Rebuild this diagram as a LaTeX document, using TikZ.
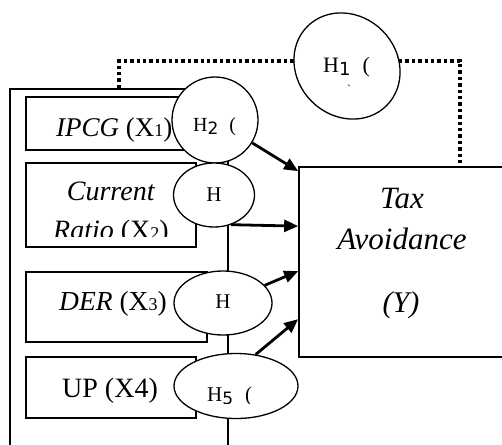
\documentclass[tikz,border=0pt]{standalone}
\usepackage{fontspec}
\setmainfont{Liberation Serif}
\newfontfamily\digitfont{DejaVu Sans}
\usepackage{tikz}
\usetikzlibrary{arrows.meta, shapes.geometric}

% small index digit after X, and the lowered digit after H
\newcommand{\xsub}[1]{{\fontsize{18}{18}\selectfont #1}}
\newcommand{\hsub}[2][15]{\raisebox{-3pt}{\digitfont\fontsize{#1}{#1}\selectfont #2}}

\begin{document}
\begin{tikzpicture}[x=1pt, y=-1pt,
    varbox/.style={rectangle, draw, line width=1.7pt, inner sep=0pt},
    hyp/.style={ellipse, draw, fill=white, line width=1.3pt, inner sep=0pt},
    boxtext/.style={inner sep=0pt, font=\fontsize{28}{32}\selectfont},
    hyptext/.style={inner sep=0pt, font=\fontsize{21}{24}\selectfont},
    moderation/.style={line width=3.4pt, dash pattern=on 3.4pt off 3pt},
    effect/.style={-{Triangle[length=14pt, width=12pt]}, line width=2.8pt}
]
\useasboundingbox (0,0) rectangle (502,444);

\node[varbox, minimum width=218pt, minimum height=361pt] (vars) at (119,269.5) {};
\node[varbox, minimum width=206pt, minimum height=190pt] (tax) at (402,262) {};

\coordinate (bend) at (460,61);
\draw[moderation] (vars.north) |- (bend) -- (bend |- tax.north);

\node[varbox, minimum width=166pt, minimum height=53pt] (ipcg) at (109,123.5) {};
\node[varbox, minimum width=170pt, minimum height=84pt] (cr) at (111,205) {};
\node[varbox, minimum width=181pt, minimum height=70pt] (der) at (116.5,307) {};
\node[varbox, minimum width=170pt, minimum height=61pt] (up) at (111,387.5) {};

\node[boxtext, anchor=base west, font=\fontsize{27}{32}\selectfont] (t-ipcg) at (56,136) {\textit{IPCG} (X\xsub{1})};
\node[boxtext, anchor=base, font=\fontsize{28}{32}\selectfont] (t-cur) at (111,200) {\textit{Current}};
\begin{scope}
  \clip (0,0) rectangle (502,236);
  \node[boxtext, anchor=base] (t-ratio) at (111,239) {\textit{Ratio} (X\xsub{2})};
\end{scope}
\node[boxtext, anchor=base west, font=\fontsize{27.5}{32}\selectfont] (t-der) at (59,310) {\textit{DER} (X\xsub{3})};
\node[boxtext, anchor=base west] (t-up) at (62,397) {UP (X4)};

\node[boxtext, anchor=base, font=\fontsize{31}{34}\selectfont\itshape] (t-tax) at (402,208) {Tax};
\node[boxtext, anchor=base, font=\fontsize{31}{34}\selectfont\itshape] (t-avoid) at (402,249) {Avoidance};
\node[boxtext, anchor=base, font=\fontsize{30}{34}\selectfont\itshape] (t-y) at (401,312) {(Y)};

% hypotheses
\node[hyp, minimum width=112pt, minimum height=100pt, rotate=-45] (h1) at (347,66) {};
\node[hyp, minimum width=86pt, minimum height=86pt] (h2) at (215,120) {};
\node[hyp, minimum width=81pt, minimum height=64pt] (h3) at (214,195) {};
\node[hyp, minimum width=98pt, minimum height=64pt] (h4) at (223,303) {};
\node[hyp, minimum width=124pt, minimum height=65pt] (h5) at (236,386) {};

\node[hyptext, anchor=base west, font=\fontsize{22}{24}\selectfont] (l1) at (323,72) {H\hsub[18]{1}\hspace{12pt}(};
\node[inner sep=0pt, font=\fontsize{12}{12}\selectfont] (l1b) at (349,89) {\textasciigrave};
\node[hyptext, anchor=base west, font=\fontsize{20}{22}\selectfont] (l2) at (193,131) {H\hsub[17]{2}\hspace{11pt}(};
\node[hyptext, anchor=base] (l3) at (214,201) {H};
\node[hyptext, anchor=base] (l4) at (223,308) {H};
\begin{scope}
  \clip (0,0) rectangle (502,403);
  \node[hyptext, anchor=base west] (l5) at (207,401) {H\hsub[17]{5}\hspace{12pt}(};
\end{scope}

\draw[effect] (h2) -- ([yshift=-5pt]tax.north west);
\draw[effect] (h3.-60) -- ([yshift=-60pt]tax.north west);
\draw[effect] (h4) -- ([yshift=-105pt]tax.north west);
\draw[effect] (h5.58) -- ([yshift=-153pt]tax.north west);

\end{tikzpicture}
\end{document}
